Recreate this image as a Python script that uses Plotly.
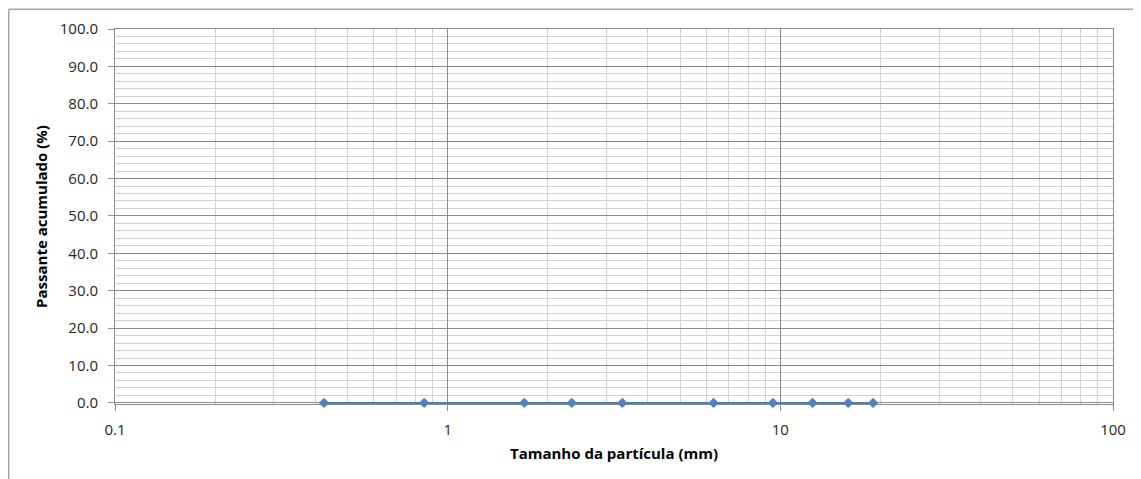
import plotly.graph_objects as go

# Data
particle_size_mm = [0.425, 0.85, 1.7, 2.36, 3.35, 6.3, 9.5, 12.5, 16, 19]
passing_pct = [0.0, 0.0, 0.0, 0.0, 0.0, 0.0, 0.0, 0.0, 0.0, 0.0]
y_tick_vals = [0, 10, 20, 30, 40, 50, 60, 70, 80, 90, 100]
y_tick_text = ["0.0", "10.0", "20.0", "30.0", "40.0", "50.0", "60.0", "70.0", "80.0", "90.0", "100.0"]
x_tick_vals = [0.1, 1, 10, 100]
x_tick_text = ["0.1", "1", "10", "100"]

# page has an 8px body margin
W, H = 1133, 471
ml, mr, mt, mb = 107, 28, 21, 75
pw, ph = W - ml - mr, H - mt - mb

fig = go.Figure()
fig.add_trace(go.Scatter(
    x=particle_size_mm, y=passing_pct, mode="lines+markers",
    line=dict(color="#4a7ebb", width=2),
    marker=dict(symbol="diamond", size=8, color="#4f81bd"),
    showlegend=False, cliponaxis=False,
))

font_family = "Open Sans, Noto Sans, sans-serif"

fig.update_layout(
    width=W, height=H,
    margin=dict(l=ml, r=mr, t=mt, b=mb, autoexpand=False),
    paper_bgcolor="white", plot_bgcolor="white",
    font=dict(family=font_family, size=15, color="#262626"),
    xaxis=dict(
        type="log", range=[-1, 2],
        tickvals=x_tick_vals, ticktext=x_tick_text,
        showgrid=True, gridcolor="#8c8c8c", gridwidth=1,
        minor=dict(showgrid=True, gridcolor="#d0d0d0", gridwidth=1,
                   tickvals=[m * 10 ** e for e in (-1, 0, 1) for m in range(2, 10)]),
        showline=True, linecolor="#8c8c8c", linewidth=1, mirror=True,
        ticks="outside", ticklen=6, tickcolor="#8c8c8c",
        ticklabelstandoff=6,
        zeroline=False, layer="below traces",
        title=dict(text="<b>Tamanho da partícula (mm)</b>", font=dict(size=15, color="#000000"), standoff=10),
        tickfont=dict(size=15, color="#262626"),
    ),
    yaxis=dict(
        range=[-0.3, 100],
        tickvals=y_tick_vals, ticktext=y_tick_text,
        showgrid=True, gridcolor="#8c8c8c", gridwidth=1,
        minor=dict(showgrid=True, gridcolor="#d0d0d0", gridwidth=1, dtick=2),
        showline=True, linecolor="#8c8c8c", linewidth=1, mirror=True,
        ticks="outside", ticklen=6, tickcolor="#8c8c8c",
        ticklabelstandoff=7,
        zeroline=False, layer="below traces",
        title=dict(text="<b>Passante acumulado (%)</b>", font=dict(size=15, color="#000000"), standoff=8),
        tickfont=dict(size=15, color="#262626"),
    ),
    shapes=[
        dict(type="line", xref="paper", yref="paper",
             x0=(0.75 - ml) / pw, x1=(W + 5 - ml) / pw,
             y0=1 + (mt - 1.25) / ph, y1=1 + (mt - 1.25) / ph,
             line=dict(color="#a6a6a6", width=1.5)),
        dict(type="line", xref="paper", yref="paper",
             x0=(0.75 - ml) / pw, x1=(0.75 - ml) / pw,
             y0=1 + (mt - 1.25) / ph, y1=-(mb + 5) / ph,
             line=dict(color="#a6a6a6", width=1.5)),
    ],
)

fig.write_html("out.html")
